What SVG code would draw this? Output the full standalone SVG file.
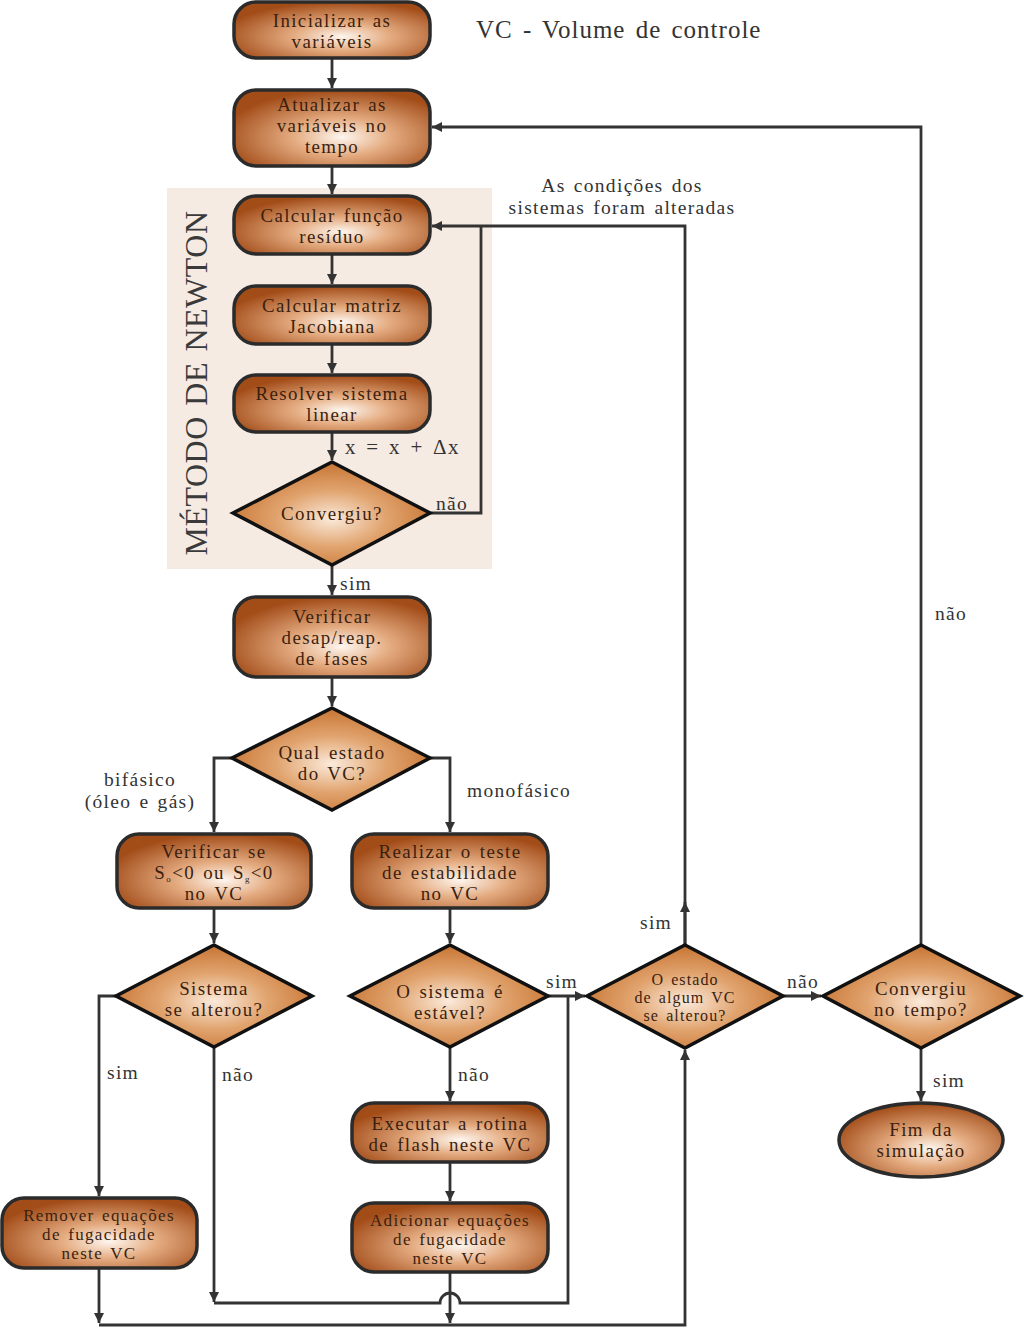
<svg xmlns="http://www.w3.org/2000/svg" width="1024" height="1328" viewBox="0 0 1024 1328">
<defs>
<radialGradient id="gBox" cx="55%" cy="62%" r="62%">
<stop offset="0" stop-color="#fef6ef"/>
<stop offset="0.4" stop-color="#e4ab80"/>
<stop offset="1" stop-color="#a24c18"/>
</radialGradient>
<radialGradient id="gDia" cx="50%" cy="55%" r="55%">
<stop offset="0" stop-color="#fbeadb"/>
<stop offset="0.5" stop-color="#e1a46f"/>
<stop offset="1" stop-color="#c77432"/>
</radialGradient>
<marker id="ah" viewBox="0 0 10 10" refX="10" refY="5" markerWidth="10" markerHeight="10" markerUnits="userSpaceOnUse" orient="auto">
<path d="M0,0 L10,5 L0,10 z" fill="#333"/>
</marker>
</defs>
<style>
.box{fill:url(#gBox);stroke:#2b2b2b;stroke-width:3.5}
.dia{fill:url(#gDia);stroke:#111;stroke-width:3.5}
.t{font-family:"Liberation Serif","DejaVu Serif",serif;font-size:18.9px;letter-spacing:1.4px;word-spacing:2px;fill:#3b1f0f;text-anchor:middle}
.s{font-size:16px;letter-spacing:1.1px}
.m{font-size:17px;letter-spacing:1.3px}
.lb{font-family:"Liberation Serif","DejaVu Serif",serif;font-size:19.5px;letter-spacing:1.3px;word-spacing:2px;fill:#333}
.c{fill:none;stroke:#333;stroke-width:2.8}
</style>
<rect x="167" y="188" width="325" height="381" fill="#f6ebe3"/>
<text class="lb" transform="translate(207,383) rotate(-90)" text-anchor="middle" style="font-size:32px;letter-spacing:0.5px;fill:#3a3a3a">MÉTODO DE NEWTON</text>
<text class="lb" x="476" y="38" style="font-size:25px;letter-spacing:1px;word-spacing:3px">VC - Volume de controle</text>

<g id="connectors">
<path class="c" d="M332,58 V88" marker-end="url(#ah)"/>
<path class="c" d="M332,166 V194" marker-end="url(#ah)"/>
<path class="c" d="M332,254 V284" marker-end="url(#ah)"/>
<path class="c" d="M332,344 V373" marker-end="url(#ah)"/>
<path class="c" d="M332,432 V460" marker-end="url(#ah)"/>
<path class="c" d="M430,513 H481 V226"/>
<path class="c" d="M685,945 V226 H432" marker-end="url(#ah)"/>
<path class="c" d="M685,945 V902" marker-end="url(#ah)"/>
<path class="c" d="M332,565 V595" marker-end="url(#ah)"/>
<path class="c" d="M332,677 V706" marker-end="url(#ah)"/>
<path class="c" d="M232,758 H214 V832" marker-end="url(#ah)"/>
<path class="c" d="M430,758 H450 V832" marker-end="url(#ah)"/>
<path class="c" d="M214,908 V943" marker-end="url(#ah)"/>
<path class="c" d="M450,908 V943" marker-end="url(#ah)"/>
<path class="c" d="M116,996 H99 V1196" marker-end="url(#ah)"/>
<path class="c" d="M214,1047 V1302" marker-end="url(#ah)"/>
<path class="c" d="M214,1303 H440 A10,10 0 0 1 460,1303 H568 V996"/>
<path class="c" d="M548,996 H585" marker-end="url(#ah)"/>
<path class="c" d="M450,1047 V1101" marker-end="url(#ah)"/>
<path class="c" d="M450,1162 V1201" marker-end="url(#ah)"/>
<path class="c" d="M450,1272 V1323" marker-end="url(#ah)"/>
<path class="c" d="M99,1268 V1323" marker-end="url(#ah)"/>
<path class="c" d="M99,1325 H685 V1050" marker-end="url(#ah)"/>
<path class="c" d="M783,996 H821" marker-end="url(#ah)"/>
<path class="c" d="M921,945 V127 H432" marker-end="url(#ah)"/>
<path class="c" d="M921,1048 V1101" marker-end="url(#ah)"/>
<text class="lb" x="345" y="454" style="font-size:21px;word-spacing:3px">x = x + Δx</text>
<text class="lb" x="436" y="510">não</text>
<text class="lb" x="622" y="192" text-anchor="middle">As condições dos</text>
<text class="lb" x="622" y="214" text-anchor="middle">sistemas foram alteradas</text>
<text class="lb" x="340" y="590">sim</text>
<text class="lb" x="140" y="786" text-anchor="middle">bifásico</text>
<text class="lb" x="140" y="808" text-anchor="middle">(óleo e gás)</text>
<text class="lb" x="467" y="797">monofásico</text>
<text class="lb" x="107" y="1079">sim</text>
<text class="lb" x="222" y="1081">não</text>
<text class="lb" x="458" y="1081">não</text>
<text class="lb" x="546" y="988">sim</text>
<text class="lb" x="640" y="929">sim</text>
<text class="lb" x="787" y="988">não</text>
<text class="lb" x="935" y="620">não</text>
<text class="lb" x="933" y="1087">sim</text>
</g>

<g id="n-init"><rect class="box" x="234" y="2" width="196" height="56" rx="22"/>
<text class="t" x="332" y="27">Inicializar as</text><text class="t" x="332" y="48">variáveis</text></g>
<g id="n-atualizar"><rect class="box" x="234" y="90" width="196" height="76" rx="22"/>
<text class="t" x="332" y="111">Atualizar as</text><text class="t" x="332" y="132">variáveis no</text><text class="t" x="332" y="153">tempo</text></g>
<g id="n-residuo"><rect class="box" x="234" y="196" width="196" height="58" rx="22"/>
<text class="t" x="332" y="222">Calcular função</text><text class="t" x="332" y="243">resíduo</text></g>
<g id="n-jacobiana"><rect class="box" x="234" y="286" width="196" height="58" rx="22"/>
<text class="t" x="332" y="312">Calcular matriz</text><text class="t" x="332" y="333">Jacobiana</text></g>
<g id="n-resolver"><rect class="box" x="234" y="375" width="196" height="57" rx="22"/>
<text class="t" x="332" y="400">Resolver sistema</text><text class="t" x="332" y="421">linear</text></g>
<g id="n-convergiu"><polygon class="dia" points="332,462 430,513 332,565 233,513"/>
<text class="t" x="332" y="520">Convergiu?</text></g>
<g id="n-verificar"><rect class="box" x="234" y="597" width="196" height="80" rx="22"/>
<text class="t" x="332" y="623">Verificar</text><text class="t" x="332" y="644">desap/reap.</text><text class="t" x="332" y="665">de fases</text></g>
<g id="n-qual"><polygon class="dia" points="332,708 430,758 332,810 232,758"/>
<text class="t" x="332" y="759">Qual estado</text><text class="t" x="332" y="780">do VC?</text></g>
<g id="n-verifse"><rect class="box" x="117" y="834" width="194" height="74" rx="22"/>
<text class="t" x="214" y="858">Verificar se</text>
<text class="t" x="214" y="879">S<tspan style="font-size:9px" dy="3">o</tspan><tspan dy="-3">&lt;0 ou S</tspan><tspan style="font-size:9px" dy="3">g</tspan><tspan dy="-3">&lt;0</tspan></text>
<text class="t" x="214" y="900">no VC</text></g>
<g id="n-realizar"><rect class="box" x="352" y="834" width="196" height="74" rx="22"/>
<text class="t" x="450" y="858">Realizar o teste</text><text class="t" x="450" y="879">de estabilidade</text><text class="t" x="450" y="900">no VC</text></g>
<g id="n-sistema"><polygon class="dia" points="214,945 312,996 214,1047 116,996"/>
<text class="t" x="214" y="995">Sistema</text><text class="t" x="214" y="1016">se alterou?</text></g>
<g id="n-estavel"><polygon class="dia" points="450,945 548,996 450,1047 350,996"/>
<text class="t" x="450" y="998">O sistema é</text><text class="t" x="450" y="1019">estável?</text></g>
<g id="n-estado"><polygon class="dia" points="685,945 783,996 685,1048 587,996"/>
<text class="t s" x="685" y="985">O estado</text><text class="t s" x="685" y="1003">de algum VC</text><text class="t s" x="685" y="1021">se alterou?</text></g>
<g id="n-convtempo"><polygon class="dia" points="921,945 1020,996 921,1048 823,996"/>
<text class="t" x="921" y="995">Convergiu</text><text class="t" x="921" y="1016">no tempo?</text></g>
<g id="n-executar"><rect class="box" x="352" y="1103" width="196" height="59" rx="22"/>
<text class="t" x="450" y="1130">Executar a rotina</text><text class="t" x="450" y="1151">de flash neste VC</text></g>
<g id="n-adicionar"><rect class="box" x="352" y="1203" width="196" height="69" rx="22"/>
<text class="t m" x="450" y="1226">Adicionar equações</text><text class="t m" x="450" y="1245">de fugacidade</text><text class="t m" x="450" y="1264">neste VC</text></g>
<g id="n-remover"><rect class="box" x="2" y="1198" width="195" height="70" rx="22"/>
<text class="t m" x="99" y="1221">Remover equações</text><text class="t m" x="99" y="1240">de fugacidade</text><text class="t m" x="99" y="1259">neste VC</text></g>
<g id="n-fim"><ellipse class="box" cx="921" cy="1140" rx="82" ry="37"/>
<text class="t" x="921" y="1136">Fim da</text><text class="t" x="921" y="1157">simulação</text></g>
</svg>
